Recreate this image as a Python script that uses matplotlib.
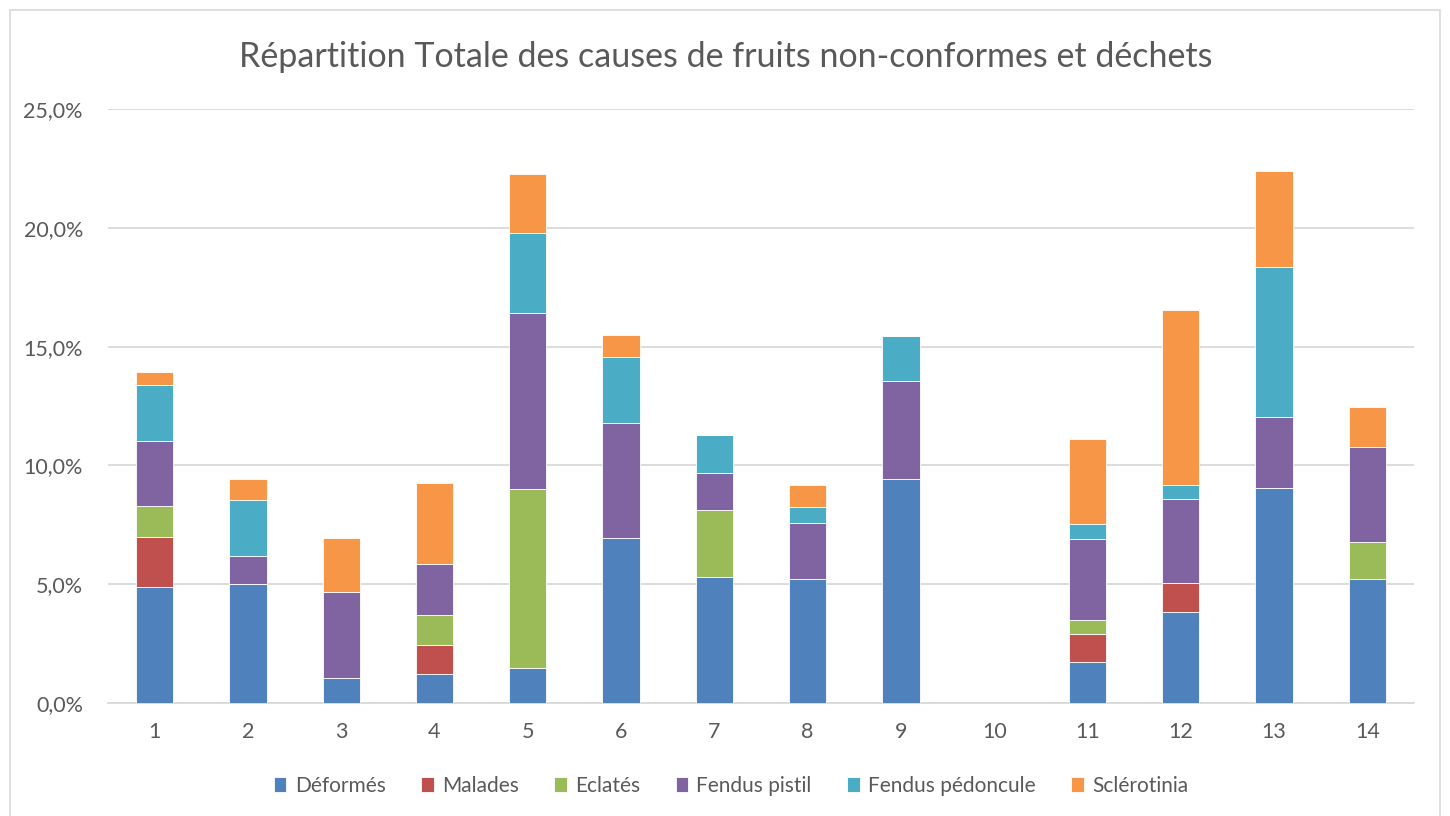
import matplotlib
matplotlib.use("Agg")
import matplotlib.pyplot as plt
from matplotlib.patches import Rectangle
from matplotlib.ticker import FuncFormatter, MultipleLocator
import numpy as np

categories = [str(i) for i in range(1, 15)]
series_names = ["Déformés", "Malades", "Eclatés", "Fendus pistil", "Fendus pédoncule", "Sclérotinia"]
deformes = [4.87, 5.00, 1.04, 1.24, 1.47, 6.94, 5.31, 5.23, 9.43, 0.0, 1.74, 3.83, 9.05, 5.21]
malades = [2.12, 0.0, 0.0, 1.22, 0.0, 0.0, 0.0, 0.0, 0.0, 0.0, 1.16, 1.24, 0.0, 0.0]
eclates = [1.32, 0.0, 0.0, 1.23, 7.55, 0.0, 2.80, 0.0, 0.0, 0.0, 0.58, 0.0, 0.0, 1.55]
fendus_pistil = [2.72, 1.18, 3.62, 2.16, 7.39, 4.83, 1.58, 2.34, 4.12, 0.0, 3.44, 3.51, 2.97, 4.00]
fendus_pedoncule = [2.34, 2.37, 0.0, 0.0, 3.37, 2.78, 1.59, 0.66, 1.90, 0.0, 0.63, 0.61, 6.32, 0.0]
sclerotinia = [0.57, 0.86, 2.27, 3.42, 2.48, 0.93, 0.0, 0.96, 0.0, 0.0, 3.58, 7.36, 4.05, 1.69]

colors = ["#4F81BD", "#C0504D", "#9BBB59", "#8064A2", "#4BACC6", "#F79646"]
data = [deformes, malades, eclates, fendus_pistil, fendus_pedoncule, sclerotinia]

plt.rcParams['font.family'] = ['Lato', 'DejaVu Sans']
fig = plt.figure(figsize=(14.5, 8.16), dpi=100)
fig.patches.append(Rectangle((10/1450, -0.01), 1430/1450, 1 - 10/816 + 0.01,
                             transform=fig.transFigure, fill=False,
                             edgecolor="#D9D9D9", linewidth=1.2))
ax = fig.add_axes([108/1450, 1 - 703/816, (1414 - 108)/1450, (703 - 109)/816])

x = np.arange(len(categories))
bottom = np.zeros(len(categories))
for name, vals, c in zip(series_names, data, colors):
    v = np.array(vals)
    ax.bar(x, v, bottom=bottom, width=0.4, color=c, label=name,
           edgecolor="white", linewidth=0.6, zorder=3)
    bottom += v

ax.set_xlim(-0.5, len(categories) - 0.5)
ax.set_ylim(0, 25)
ax.yaxis.set_major_locator(MultipleLocator(5))
ax.yaxis.set_major_formatter(FuncFormatter(lambda v, p: f"{v:.1f}%".replace(".", ",")))
ax.set_xticks(x)
ax.set_xticklabels(categories)
ax.grid(axis="y", color="#D9D9D9", linewidth=1.3, zorder=0)
for s in ["top", "right", "left"]:
    ax.spines[s].set_visible(False)
ax.spines["bottom"].set_color("#D9D9D9")
ax.spines["bottom"].set_linewidth(1.3)
ax.tick_params(axis="both", length=0, labelsize=15.5, colors="#595959")
ax.tick_params(axis="x", pad=14)
ax.tick_params(axis="y", pad=18)

fig.text(726/1450, 1 - 57/816, "Répartition Totale des causes de fruits non-conformes et déchets",
         ha="center", va="center", fontsize=24.5, color="#595959")

leg = fig.legend(loc="center", bbox_to_anchor=(731/1450, 1 - 786/816), ncol=6,
                 frameon=False, fontsize=15, handlelength=0.6, handleheight=0.7,
                 handletextpad=0.4, columnspacing=1.7)
for t in leg.get_texts():
    t.set_color("#595959")

fig.savefig("out.png", dpi=100)
